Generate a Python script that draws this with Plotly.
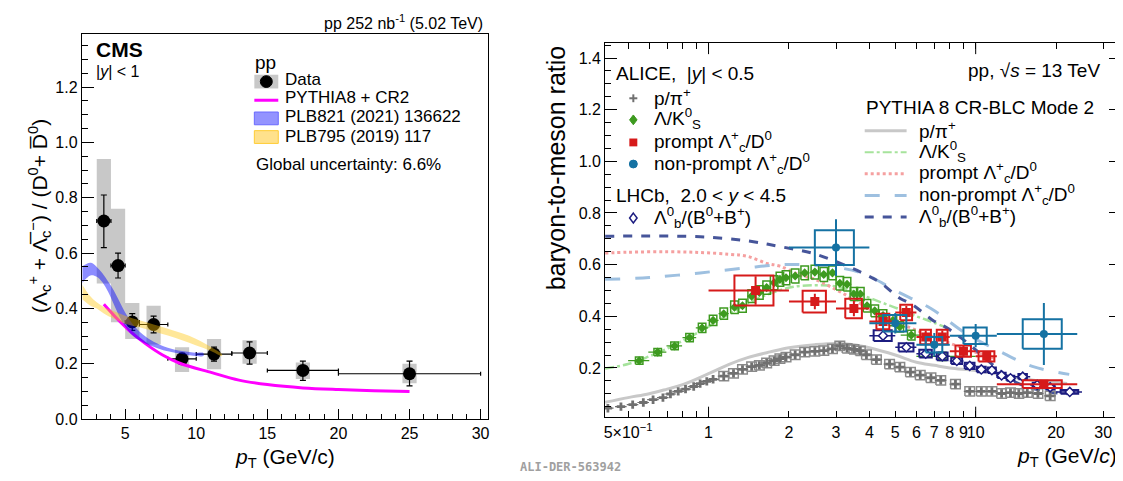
import math
import plotly.graph_objects as go

W, H = 1123, 481

# ---------------- LEFT PANEL DATA (CMS) ----------------
cms_x = [3.5, 4.5, 5.5, 7.0, 9.0, 11.25, 13.75, 17.5, 25.0]
cms_y = [0.716, 0.555, 0.351, 0.342, 0.218, 0.235, 0.239, 0.176, 0.164]
cms_xerr = [0.5, 0.5, 0.5, 1.0, 1.0, 1.25, 1.25, 2.5, 5.0]
cms_stat_up = [0.094, 0.045, 0.03, 0.03, 0.02, 0.025, 0.04, 0.034, 0.046]
cms_stat_dn = [0.096, 0.045, 0.03, 0.03, 0.02, 0.025, 0.04, 0.036, 0.044]
cms_syst_lo = [0.49, 0.35, 0.29, 0.27, 0.17, 0.18, 0.20, 0.145, 0.13]
cms_syst_hi = [0.94, 0.76, 0.42, 0.41, 0.26, 0.29, 0.285, 0.205, 0.20]

pythia_cr2_x = [3.5, 4.3, 5.25, 6.4, 7.6, 8.8, 11.1, 13.0, 15.0, 17.5, 20.0, 22.5, 25.0]
pythia_cr2_y = [0.415, 0.37, 0.322, 0.274, 0.233, 0.203, 0.168, 0.141, 0.125, 0.113, 0.107, 0.103, 0.10]

plb821_x = [2.0, 2.3, 2.6, 3.0, 3.4, 3.8, 4.2, 4.6, 5.0, 5.5, 6.0, 6.5, 7.0, 8.0, 9.0, 10.0, 10.5]
plb821_hi = [0.553, 0.562, 0.565, 0.55, 0.527, 0.497, 0.465, 0.425, 0.385, 0.345, 0.317, 0.296, 0.28, 0.258, 0.246, 0.24, 0.239]
plb821_lo = [0.493, 0.51, 0.52, 0.515, 0.495, 0.46, 0.415, 0.37, 0.335, 0.303, 0.285, 0.272, 0.262, 0.245, 0.235, 0.228, 0.228]

plb795_x = [2.0, 2.5, 3.0, 3.5, 4.0, 5.0, 6.0, 7.0, 8.0, 9.0, 10.0, 11.0, 11.8]
plb795_hi = [0.485, 0.447, 0.422, 0.405, 0.394, 0.374, 0.357, 0.342, 0.327, 0.31, 0.29, 0.262, 0.235]
plb795_lo = [0.432, 0.412, 0.40, 0.382, 0.368, 0.345, 0.332, 0.318, 0.302, 0.285, 0.266, 0.247, 0.228]

# ---------------- RIGHT PANEL DATA (ALICE / LHCb) ----------------
ppi_x = [0.42, 0.47, 0.52, 0.57, 0.62, 0.675, 0.72, 0.77, 0.82, 0.88, 0.93, 0.985, 1.04, 1.14, 1.24,
         1.34, 1.45, 1.55, 1.65, 1.76, 1.85, 1.95, 2.11, 2.29, 2.5, 2.7, 2.91, 3.1, 3.3, 3.5, 3.7, 3.9,
         4.25, 4.76, 5.2, 5.7, 6.2, 6.8, 7.4, 8.4, 9.5, 10.5, 11.5, 12.5, 13.5, 14.5, 15.6, 17.1, 19.0]
ppi_y = [0.044, 0.050, 0.058, 0.066, 0.077, 0.085, 0.099, 0.109, 0.118, 0.128, 0.139, 0.148, 0.156, 0.168, 0.179,
         0.194, 0.205, 0.21, 0.219, 0.228, 0.236, 0.242, 0.251, 0.261, 0.264, 0.267, 0.274, 0.285, 0.276, 0.272, 0.266, 0.251,
         0.232, 0.215, 0.203, 0.184, 0.172, 0.162, 0.152, 0.137, 0.109, 0.109, 0.109, 0.101, 0.104, 0.101, 0.104, 0.101, 0.092]
ppi_box_min_pt = 1.1

lk_x = [0.55, 0.645, 0.746, 0.849, 0.946, 1.04, 1.14, 1.25, 1.34, 1.45, 1.55, 1.65, 1.76, 1.85, 1.95, 2.11,
        2.29, 2.5, 2.7, 2.91, 3.1, 3.3, 3.5, 3.7, 3.92, 4.19, 4.5, 4.9, 5.2, 5.74, 7.5]
lk_y = [0.228, 0.261, 0.285, 0.317, 0.355, 0.384, 0.41, 0.435, 0.441, 0.478, 0.492, 0.511, 0.53, 0.543, 0.549, 0.556,
        0.568, 0.571, 0.562, 0.568, 0.528, 0.524, 0.486, 0.486, 0.441, 0.421, 0.403, 0.384, 0.359, 0.327, 0.245]
lk_xlo = [0.05, 0.05, 0.05, 0.05, 0.05, 0.05, 0.05, 0.05, 0.05, 0.05, 0.05, 0.05, 0.05, 0.05, 0.05, 0.1,
          0.1, 0.1, 0.1, 0.1, 0.1, 0.1, 0.1, 0.1, 0.1, 0.15, 0.15, 0.25, 0.25, 0.5, 1.5]
lk_xhi = [0.05, 0.05, 0.05, 0.05, 0.05, 0.05, 0.05, 0.05, 0.05, 0.05, 0.05, 0.05, 0.05, 0.05, 0.05, 0.1,
          0.1, 0.1, 0.1, 0.1, 0.1, 0.1, 0.1, 0.1, 0.1, 0.15, 0.15, 0.25, 0.25, 0.5, 2.5]
lk_syst = [0.014, 0.014, 0.015, 0.016, 0.018, 0.02, 0.022, 0.024, 0.025, 0.025, 0.026, 0.026, 0.027, 0.027, 0.027, 0.027,
           0.027, 0.027, 0.027, 0.027, 0.026, 0.026, 0.025, 0.025, 0.024, 0.023, 0.022, 0.021, 0.02, 0.019, 0.016]

pr_x = [1.5, 2.5, 3.5, 4.5, 5.5, 6.5, 7.5, 9.0, 11.0, 18.0]
pr_y = [0.50, 0.457, 0.43, 0.38, 0.415, 0.32, 0.32, 0.265, 0.245, 0.137]
pr_xerr = [0.5, 0.5, 0.5, 0.5, 0.5, 0.5, 0.5, 1.0, 1.0, 6.0]
pr_stat = [0.055, 0.03, 0.03, 0.03, 0.025, 0.025, 0.025, 0.02, 0.02, 0.015]
pr_syst = [0.058, 0.042, 0.038, 0.03, 0.03, 0.028, 0.028, 0.022, 0.02, 0.015]
pr_boxw = [0.25, 0.25, 0.25, 0.25, 0.28, 0.3, 0.35, 0.6, 0.75, 3.0]

np_x = [3.0, 5.0, 7.0, 10.0, 18.0]
np_y = [0.666, 0.373, 0.29, 0.325, 0.331]
np_xerr = [1.0, 1.0, 1.0, 2.0, 6.0]
np_stat = [0.11, 0.04, 0.045, 0.045, 0.12]
np_syst = [0.067, 0.032, 0.03, 0.032, 0.057]
np_boxw = [0.5, 0.5, 0.5, 1.0, 3.0]

lb_x = [4.5, 5.5, 6.5, 7.5, 8.5, 9.5, 10.5, 11.5, 12.5, 13.5, 15.0, 17.0, 19.0, 22.5]
lb_y = [0.325, 0.28, 0.255, 0.245, 0.227, 0.208, 0.194, 0.191, 0.171, 0.16, 0.166, 0.134, 0.125, 0.107]
lb_xerr = [0.5, 0.5, 0.5, 0.5, 0.5, 0.5, 0.5, 0.5, 0.5, 0.5, 1.0, 1.0, 1.0, 2.5]
lb_syst = [0.021, 0.016, 0.015, 0.015, 0.012, 0.012, 0.011, 0.011, 0.01, 0.01, 0.01, 0.009, 0.009, 0.007]
lb_boxw = [0.35, 0.35, 0.35, 0.35, 0.4, 0.4, 0.4, 0.4, 0.45, 0.45, 0.55, 0.65, 0.75, 1.7]

# PYTHIA 8 CR-BLC Mode 2 curves
m_ppi_x = [0.41, 0.5, 0.6, 0.7, 0.8, 1.0, 1.2, 1.4, 1.7, 2.0, 2.5, 3.0, 3.5, 4.0, 5.0, 6.0, 7.0, 8.0, 10, 12, 15, 18, 22]
m_ppi_y = [0.067, 0.085, 0.1, 0.118, 0.135, 0.178, 0.215, 0.24, 0.262, 0.278, 0.29, 0.295, 0.29, 0.278, 0.25, 0.222, 0.21, 0.2, 0.19, 0.177, 0.158, 0.147, 0.14]
m_lk_x = [0.41, 0.5, 0.6, 0.7, 0.8, 1.0, 1.2, 1.5, 1.8, 2.1, 2.5, 2.9, 3.4, 3.8, 4.4, 5.1, 6.0, 7.0, 8.0]
m_lk_y = [0.198, 0.215, 0.245, 0.275, 0.305, 0.36, 0.41, 0.465, 0.497, 0.515, 0.52, 0.518, 0.5, 0.48, 0.455, 0.43, 0.4, 0.375, 0.35]
m_pr_x = [0.41, 0.5, 0.7, 0.93, 1.2, 1.4, 1.65, 1.85, 2.2, 2.5, 3.3, 4.4, 5.8, 7.8, 10, 12]
m_pr_y = [0.645, 0.648, 0.65, 0.647, 0.64, 0.632, 0.605, 0.594, 0.56, 0.543, 0.48, 0.403, 0.352, 0.30, 0.26, 0.235]
m_np_x = [0.41, 0.6, 0.93, 1.4, 1.85, 2.2, 2.9, 3.8, 5.1, 6.8, 9.2, 12.3, 16.3, 22.4]
m_np_y = [0.543, 0.55, 0.568, 0.588, 0.6, 0.6, 0.592, 0.565, 0.495, 0.43, 0.333, 0.264, 0.206, 0.175]
m_lb_x = [0.41, 0.93, 1.4, 1.85, 2.47, 3.3, 3.9, 4.4, 5.2, 5.8, 6.9, 7.8, 9.5, 10.5, 12.3, 13.8, 15.8, 19.4, 22.0]
m_lb_y = [0.71, 0.708, 0.692, 0.67, 0.643, 0.594, 0.56, 0.53, 0.47, 0.445, 0.385, 0.355, 0.29, 0.25, 0.19, 0.15, 0.125, 0.105, 0.10]

# ---------------- colours / fonts ----------------
FONT = "Liberation Sans, Arial, Helvetica, sans-serif"
C_GRAY_BOX = "#c8c8c8"
C_MAG = "#ff00ff"
C_BLUE_BAND = "rgba(0,0,255,0.45)"
C_YEL_BAND = "rgba(255,195,0,0.40)"
C_PPI = "#707070"
C_LK = "#3d9a1f"
C_PR = "#d61a1a"
C_NP = "#1572a3"
C_LB = "#1c1c80"
CM_PPI = "#c8c8c8"
CM_LK = "#a6e39c"
CM_PR = "#f5a0a0"
CM_NP = "#9ec0e0"
CM_LB = "#46559a"


def boxes(xs, ys, hw, hh, log=False, logw=None):
    X, Y = [], []
    for i, (x, y) in enumerate(zip(xs, ys)):
        if log and logw is not None:
            x0, x1 = x / 10 ** logw, x * 10 ** logw
        else:
            x0, x1 = x - hw[i], x + hw[i]
        h = hh[i]
        X += [x0, x1, x1, x0, x0, None]
        Y += [y - h, y - h, y + h, y + h, y - h, None]
    return X, Y


fig = go.Figure()

# ===== LEFT PANEL =====
bx, by = [], []
for x, lo, hi in zip(cms_x, cms_syst_lo, cms_syst_hi):
    bx += [x - 0.5, x + 0.5, x + 0.5, x - 0.5, x - 0.5, None]
    by += [lo, lo, hi, hi, lo, None]
fig.add_trace(go.Scatter(x=bx, y=by, mode="lines", fill="toself", fillcolor=C_GRAY_BOX,
                         line=dict(width=0, color=C_GRAY_BOX), xaxis="x", yaxis="y", hoverinfo="skip"))
fig.add_trace(go.Scatter(
    x=cms_x, y=cms_y, mode="markers", xaxis="x", yaxis="y",
    marker=dict(color="black", size=13, symbol="circle"),
    error_x=dict(type="data", array=cms_xerr, color="black", thickness=1.2, width=2),
    error_y=dict(type="data", array=cms_stat_up, arrayminus=cms_stat_dn, color="black", thickness=1.2, width=3)))
fig.add_trace(go.Scatter(x=pythia_cr2_x, y=pythia_cr2_y, mode="lines", line=dict(color=C_MAG, width=3, shape="spline"),
                         xaxis="x", yaxis="y"))
fig.add_trace(go.Scatter(x=plb821_x + plb821_x[::-1], y=plb821_hi + plb821_lo[::-1], mode="lines",
                         fill="toself", fillcolor=C_BLUE_BAND, line=dict(width=0, shape="spline"), xaxis="x", yaxis="y"))
fig.add_trace(go.Scatter(x=plb795_x + plb795_x[::-1], y=plb795_hi + plb795_lo[::-1], mode="lines",
                         fill="toself", fillcolor=C_YEL_BAND, line=dict(width=0, shape="spline"), xaxis="x", yaxis="y"))

# ===== RIGHT PANEL =====
for mx, my, col, dash, wd in [
    (m_ppi_x, m_ppi_y, CM_PPI, "solid", 3),
    (m_lk_x, m_lk_y, CM_LK, "dashdot", 2.5),
    (m_pr_x, m_pr_y, CM_PR, "dot", 3),
    (m_np_x, m_np_y, CM_NP, "longdash", 3),
    (m_lb_x, m_lb_y, CM_LB, "dash", 3),
]:
    fig.add_trace(go.Scatter(x=mx, y=my, mode="lines", line=dict(color=col, dash=dash, width=wd, shape="spline"),
                             xaxis="x2", yaxis="y2"))

# p/pi
ppi_bx_x = [x for x in ppi_x if x > ppi_box_min_pt]
ppi_bx_y = [y for x, y in zip(ppi_x, ppi_y) if x > ppi_box_min_pt]
X, Y = boxes(ppi_bx_x, ppi_bx_y, None, [0.018] * len(ppi_bx_x), log=True, logw=0.018)
fig.add_trace(go.Scatter(x=X, y=Y, mode="lines", line=dict(color="#8a8a8a", width=1.5), xaxis="x2", yaxis="y2"))
fig.add_trace(go.Scatter(x=ppi_x, y=ppi_y, mode="markers", xaxis="x2", yaxis="y2",
                         marker=dict(symbol="cross", size=7, color=C_PPI),
                         error_x=dict(type="percent", value=5, color=C_PPI, thickness=1.2, width=0)))
# Lambda/K0S
X, Y = boxes(lk_x, lk_y, None, lk_syst, log=True, logw=0.014)
fig.add_trace(go.Scatter(x=X, y=Y, mode="lines", line=dict(color=C_LK, width=1.5), xaxis="x2", yaxis="y2"))
fig.add_trace(go.Scatter(x=lk_x, y=lk_y, mode="markers", xaxis="x2", yaxis="y2",
                         marker=dict(symbol="diamond", size=7, color=C_LK),
                         error_x=dict(type="data", array=lk_xhi, arrayminus=lk_xlo, color=C_LK, thickness=1.2, width=0)))
# Lambda_b
X, Y = boxes(lb_x, lb_y, lb_boxw, lb_syst)
fig.add_trace(go.Scatter(x=X, y=Y, mode="lines", line=dict(color=C_LB, width=2), xaxis="x2", yaxis="y2"))
fig.add_trace(go.Scatter(x=lb_x, y=lb_y, mode="markers", xaxis="x2", yaxis="y2",
                         marker=dict(symbol="diamond", size=7, color="white", line=dict(color=C_LB, width=1.5)),
                         error_x=dict(type="data", array=lb_xerr, color=C_LB, thickness=1.5, width=0)))
# prompt Lc
X, Y = boxes(pr_x, pr_y, pr_boxw, pr_syst)
fig.add_trace(go.Scatter(x=X, y=Y, mode="lines", line=dict(color=C_PR, width=2), xaxis="x2", yaxis="y2"))
fig.add_trace(go.Scatter(x=pr_x, y=pr_y, mode="markers", xaxis="x2", yaxis="y2",
                         marker=dict(symbol="square", size=9, color=C_PR),
                         error_x=dict(type="data", array=pr_xerr, color=C_PR, thickness=2, width=0),
                         error_y=dict(type="data", array=pr_stat, color=C_PR, thickness=2, width=0)))
# non-prompt Lc
X, Y = boxes(np_x, np_y, np_boxw, np_syst)
fig.add_trace(go.Scatter(x=X, y=Y, mode="lines", line=dict(color=C_NP, width=2), xaxis="x2", yaxis="y2"))
fig.add_trace(go.Scatter(x=np_x, y=np_y, mode="markers", xaxis="x2", yaxis="y2",
                         marker=dict(symbol="circle", size=8, color=C_NP),
                         error_x=dict(type="data", array=np_xerr, color=C_NP, thickness=2, width=0),
                         error_y=dict(type="data", array=np_stat, color=C_NP, thickness=2, width=0)))


# ---------------- helpers for paper-pixel placement ----------------
def fx(p):
    return p / W


def fy(p):
    return 1 - p / H


ann = []
shapes = []


def text(x, y, s, size=17, xanchor="left", yanchor="middle", angle=0, color="black", family=FONT):
    ann.append(dict(x=fx(x), y=fy(y), xref="paper", yref="paper", text=s, showarrow=False,
                    xanchor=xanchor, yanchor=yanchor, textangle=angle,
                    font=dict(size=size, color=color, family=family)))


def line(x0, y0, x1, y1, color, width, dash="solid"):
    shapes.append(dict(type="line", xref="paper", yref="paper", x0=fx(x0), y0=fy(y0), x1=fx(x1), y1=fy(y1),
                       line=dict(color=color, width=width, dash=dash)))


def rect(x0, y0, x1, y1, fill, lc=None, lw=0):
    shapes.append(dict(type="rect", xref="paper", yref="paper", x0=fx(x0), y0=fy(y0), x1=fx(x1), y1=fy(y1),
                       fillcolor=fill, line=dict(color=lc or fill, width=lw)))


def circ(cx, cy, r, fill, lc=None):
    shapes.append(dict(type="circle", xref="paper", yref="paper", x0=fx(cx - r), y0=fy(cy + r),
                       x1=fx(cx + r), y1=fy(cy - r), fillcolor=fill, line=dict(color=lc or fill, width=1)))


def diamond(cx, cy, r, fill, lc, lw=1):
    p = f"M {fx(cx)},{fy(cy - r)} L {fx(cx + r * 0.75)},{fy(cy)} L {fx(cx)},{fy(cy + r)} L {fx(cx - r * 0.75)},{fy(cy)} Z"
    shapes.append(dict(type="path", xref="paper", yref="paper", path=p, fillcolor=fill, line=dict(color=lc, width=lw)))


# ----- left panel texts & legend -----
text(477, 14, "pp 252 nb<sup>-1</sup> (5.02 TeV)", size=16, xanchor="right")
text(85, 42, "<b>CMS</b>", size=21)
text(85, 65, "|<i>y</i>| < 1", size=16)
text(245, 56, "pp", size=19)
rect(246, 68, 270, 82, C_GRAY_BOX)
circ(258, 75, 6, "black")
text(275, 73, "Data", size=17)
line(246, 94, 270, 94, C_MAG, 3)
text(275, 91, "PYTHIA8 + CR2", size=17)
rect(246, 106, 270, 119, "rgba(120,120,255,0.8)", "#6a6aff", 1)
text(275, 111, "PLB821 (2021) 136622", size=17)
rect(246, 125, 270, 138, "rgba(255,225,140,1)", "#ffcc33", 1)
text(275, 131, "PLB795 (2019) 117", size=17)
text(246, 159, "Global uncertainty: 6.6%", size=17)
text(30, 212, "(Λ<sub>c</sub><sup>+</sup> + Λ̅<sub>c</sub><sup>−</sup>) / (D<sup>0</sup>+ D̅<sup>0</sup>)", size=21, angle=-90,
     xanchor="center", yanchor="middle")
text(277, 459, "<i>p</i><sub>T</sub> (GeV/c)", size=21, xanchor="center")

# ----- right panel texts & legend -----
text(607, 67, "ALICE,  |<i>y</i>| < 0.5", size=19)
line(622, 92, 630, 92, C_PPI, 2)
line(626, 88, 626, 96, C_PPI, 2)
text(645, 91, "p/π<sup>+</sup>", size=19)
diamond(626, 114, 5, C_LK, C_LK)
text(645, 113, "Λ/K<sup>0</sup><sub>S</sub>", size=19)
rect(622, 133, 630, 141, C_PR)
text(645, 136, "prompt Λ<sup>+</sup><sub>c</sub>/D<sup>0</sup>", size=19)
circ(626, 159, 4, C_NP)
text(645, 158, "non-prompt Λ<sup>+</sup><sub>c</sub>/D<sup>0</sup>", size=19)
text(607, 191, "LHCb,  2.0 < <i>y</i> < 4.5", size=19)
diamond(626, 214, 5, "white", C_LB, 1.5)
text(645, 213, "Λ<sup>0</sup><sub>b</sub>/(B<sup>0</sup>+B<sup>+</sup>)", size=19)

text(1096, 64, "pp, √<i>s</i> = 13 TeV", size=19, xanchor="right")
text(857, 101, "PYTHIA 8 CR-BLC Mode 2", size=19)
leg_rows = [("p/π<sup>+</sup>", CM_PPI, "solid", 3, 125),
            ("Λ/K<sup>0</sup><sub>S</sub>", CM_LK, "dashdot", 2, 147),
            ("prompt Λ<sup>+</sup><sub>c</sub>/D<sup>0</sup>", CM_PR, "dot", 3, 169),
            ("non-prompt Λ<sup>+</sup><sub>c</sub>/D<sup>0</sup>", CM_NP, "longdash", 3, 191),
            ("Λ<sup>0</sup><sub>b</sub>/(B<sup>0</sup>+B<sup>+</sup>)", CM_LB, "dash", 3, 213)]
for lab, col, dsh, wd, yy in leg_rows:
    line(858, yy, 900, yy, col, wd, dsh)
    text(910, yy - 1, lab, size=19)

text(548, 36, "baryon-to-meson ratio", size=25, angle=-90, xanchor="center", yanchor="top")
text(1113, 458, "<i>p</i><sub>T</sub> (GeV/<i>c</i>)", size=21, xanchor="right")
text(563, 468, "<b>ALI-DER-563942</b>", size=12, xanchor="center", color="#a0a0a0",
     family="DejaVu Sans Mono, Liberation Mono, monospace")

# long ticks at 1 and 10 on the log axis
for v in [1, 10]:
    shapes.append(dict(type="line", xref="x2", yref="y2 domain", x0=v, x1=v, y0=0, y1=11 / 381,
                       line=dict(color="black", width=1)))
    shapes.append(dict(type="line", xref="x2", yref="y2 domain", x0=v, x1=v, y0=1, y1=1 - 11 / 381,
                       line=dict(color="black", width=1)))

log_tickvals = [0.5, 0.6, 0.7, 0.8, 0.9, 1, 2, 3, 4, 5, 6, 7, 8, 9, 10, 20, 30]
log_ticktext = ["5×10<sup>−1</sup>", "", "", "", "", "1", "2", "3", "4", "5", "6", "7", "8", "9", "10", "20", "30"]

axis_common = dict(showline=True, linecolor="black", linewidth=1, ticks="inside", tickcolor="black",
                   tickwidth=1, showgrid=False, zeroline=False, tickfont=dict(size=16, family=FONT, color="black"))

fig.update_layout(
    width=W, height=H, margin=dict(l=0, r=0, t=0, b=0),
    paper_bgcolor="white", plot_bgcolor="white", showlegend=False,
    font=dict(family=FONT, color="black"),
    xaxis=dict(domain=[73 / W, 480 / W], range=[1.95, 30.5], anchor="y", mirror=True,
               tick0=0, dtick=5, ticklen=10, tickangle=0,
               minor=dict(ticks="inside", ticklen=5, tick0=0, dtick=1, tickcolor="black", showgrid=False),
               **axis_common),
    yaxis=dict(domain=[1 - 419 / H, 1 - 27 / H], range=[0, 1.39], anchor="x", mirror=True,
               tick0=0, dtick=0.2, tickformat=".1f", ticklen=12,
               minor=dict(ticks="inside", ticklen=6, tick0=0, dtick=0.05, tickcolor="black", showgrid=False),
               **axis_common),
    xaxis2=dict(domain=[597.7 / W, 1115 / W], type="log", range=[math.log10(0.41), math.log10(35)], anchor="y2",
                mirror="allticks", tickvals=log_tickvals, ticktext=log_ticktext, ticklen=6, tickangle=0,
                **axis_common),
    yaxis2=dict(domain=[1 - 417.3 / H, 1 - 36 / H], range=[0.008, 1.457], anchor="x2", mirror="allticks",
                tick0=0, dtick=0.2, tickformat=".1f", ticklen=12,
                minor=dict(ticks="inside", ticklen=6, tick0=0, dtick=0.05, tickcolor="black", showgrid=False),
                **axis_common),
    annotations=ann, shapes=shapes,
)

fig.write_html("out.html")
